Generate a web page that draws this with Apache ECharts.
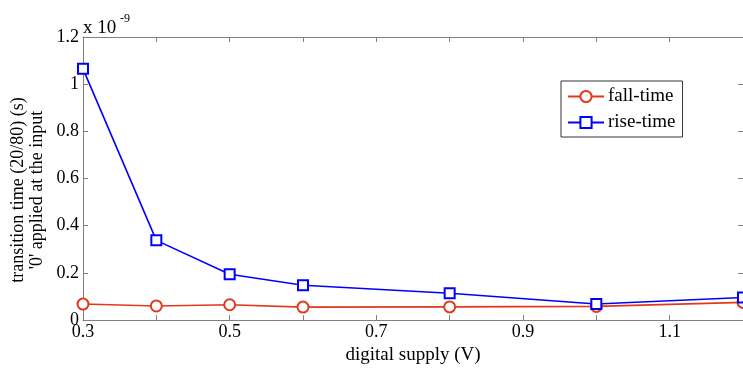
<!DOCTYPE html>
<html>
<head>
<meta charset="utf-8">
<script src="https://cdn.jsdelivr.net/npm/echarts@6/dist/echarts.min.js"></script>
<style>
html,body{margin:0;padding:0;background:#fff;}
#chart{width:743px;height:370px;}
</style>
</head>
<body>
<div id="chart"></div>
<script>
// Data (y values in units of 1e-9 s)
var supplyV = [0.3, 0.4, 0.5, 0.6, 0.8, 1.0, 1.2];
var fallTime = [0.068, 0.060, 0.065, 0.055, 0.056, 0.058, 0.075];
var riseTime = [1.065, 0.338, 0.194, 0.148, 0.114, 0.068, 0.096];
var xLabelsShown = ['0.3', '0.5', '0.7', '0.9', '1.1'];
var yTicks = [0, 0.2, 0.4, 0.6, 0.8, 1, 1.2];

var FONT = 'Liberation Serif';
var AX = '#808080';

function pairs(xs, ys) { return xs.map(function (x, i) { return [x, ys[i]]; }); }

var chart = echarts.init(document.getElementById('chart'), null, {renderer: 'canvas'});
var gridBox = {left: 83, top: 37, width: 662, height: 284};

chart.setOption({
  animation: false,
  backgroundColor: '#fff',
  textStyle: {fontFamily: FONT},
  grid: gridBox,
  xAxis: [{
    type: 'value', min: 0.3, max: 1.2, interval: 0.1,
    name: 'digital supply (V)', nameLocation: 'middle', nameGap: 24,
    nameTextStyle: {fontFamily: FONT, fontSize: 19, color: '#000'},
    axisLine: {show: true, lineStyle: {color: AX, width: 1}},
    axisTick: {show: true, inside: true, length: 5, lineStyle: {color: AX}},
    splitLine: {show: false},
    axisLabel: {
      fontFamily: FONT, fontSize: 18, color: '#000', margin: 3,
      showMaxLabel: false,
      formatter: function (v) {
        var s = (Math.round(v * 10) / 10).toString();
        if (s.indexOf('.') < 0) s = s + '.0';
        return xLabelsShown.indexOf(s) >= 0 ? s : '';
      }
    }
  }, {
    type: 'value', position: 'top', min: 0.3, max: 1.2, interval: 0.1,
    axisLine: {show: true, onZero: false, lineStyle: {color: AX, width: 1}},
    axisTick: {show: true, inside: true, length: 5, lineStyle: {color: AX}},
    axisLabel: {show: false}, splitLine: {show: false}
  }],
  yAxis: [{
    type: 'value', min: 0, max: 1.2, interval: 0.2,
    axisLine: {show: true, lineStyle: {color: AX, width: 1}},
    axisTick: {show: true, inside: true, length: 5, lineStyle: {color: AX}},
    splitLine: {show: false},
    axisLabel: {
      fontFamily: FONT, fontSize: 18, color: '#000', margin: 4,
      formatter: function (v) {
        var r = Math.round(v * 10) / 10;
        return yTicks.indexOf(r) >= 0 ? String(r) : '';
      }
    }
  }, {
    type: 'value', position: 'right', min: 0, max: 1.2, interval: 0.2,
    axisLine: {show: true, onZero: false, lineStyle: {color: AX, width: 1}},
    axisTick: {show: true, inside: true, length: 5, lineStyle: {color: AX}},
    axisLabel: {show: false}, splitLine: {show: false}
  }],
  legend: {
    left: 561, top: 81, orient: 'vertical',
    backgroundColor: '#fff', borderColor: '#333', borderWidth: 1, borderRadius: 0,
    padding: [6, 7, 5, 6], itemWidth: 36, itemHeight: 14, itemGap: 7,
    textStyle: {fontFamily: FONT, fontSize: 19, color: '#000', padding: [0, 0, 0, -1]},
    data: ['fall-time', 'rise-time']
  },
  series: [{
    name: 'fall-time', type: 'line', data: pairs(supplyV, fallTime),
    symbol: 'emptyCircle', symbolSize: 11,
    lineStyle: {color: '#e2391b', width: 1.6},
    itemStyle: {color: '#e2391b', borderColor: '#e2391b', borderWidth: 1.3},
    clip: true
  }, {
    name: 'rise-time', type: 'line', data: pairs(supplyV, riseTime),
    symbol: 'emptyRect', symbolSize: 10,
    lineStyle: {color: '#0000ff', width: 1.6},
    itemStyle: {color: '#0000ff', borderColor: '#0000ff', borderWidth: 1.3},
    clip: true
  }],
  graphic: [
    {type: 'text', x: 18, y: 190, rotation: Math.PI / 2,
     style: {text: 'transition time (20/80) (s)', fontFamily: FONT, fontSize: 18, fill: '#000', align: 'center', verticalAlign: 'middle'}},
    {type: 'text', x: 37, y: 190, rotation: Math.PI / 2,
     style: {text: "'0' applied at the input", fontFamily: FONT, fontSize: 18, fill: '#000', align: 'center', verticalAlign: 'middle'}},
    {type: 'text', x: 83, y: 28,
     style: {text: 'x 10', fontFamily: FONT, fontSize: 19, fill: '#000', align: 'left', verticalAlign: 'middle'}},
    {type: 'text', x: 120, y: 19,
     style: {text: '-9', fontFamily: FONT, fontSize: 12, fill: '#000', align: 'left', verticalAlign: 'middle'}}
  ]
});
</script>
</body>
</html>
